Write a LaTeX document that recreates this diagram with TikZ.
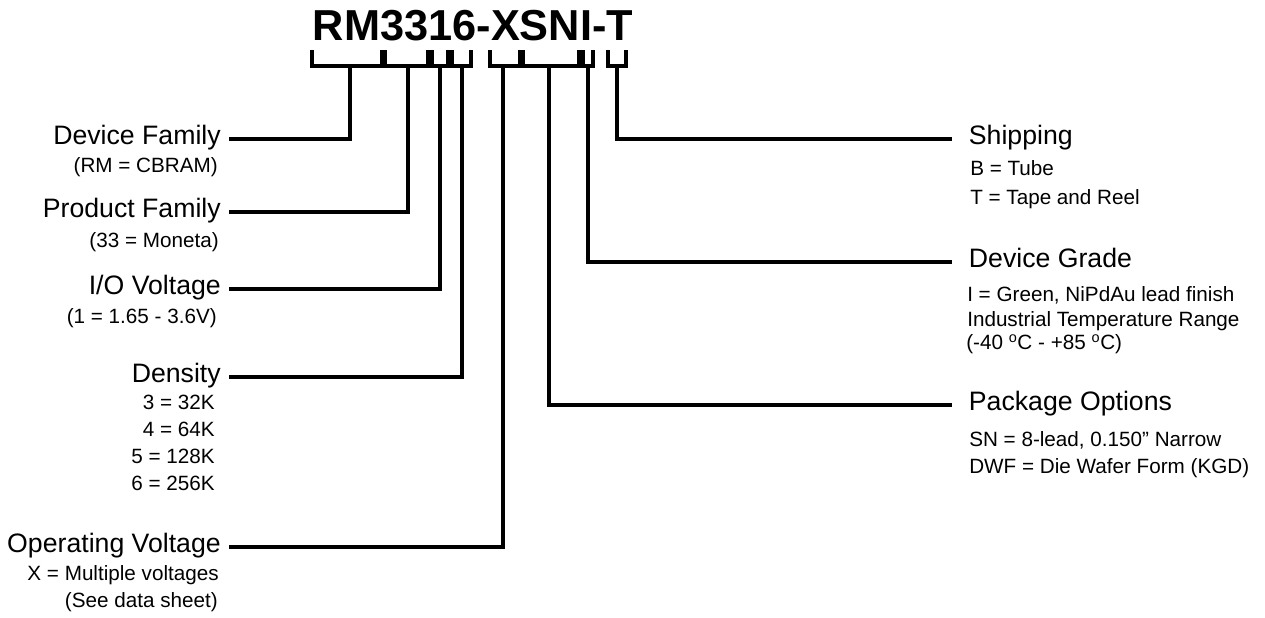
\documentclass[tikz,border=0pt]{standalone}
\usepackage{fontspec}
\setmainfont{Liberation Sans}
\tikzset{
  partno/.style={font=\fontsize{32.5}{38}\selectfont\bfseries,inner sep=0pt,anchor=base},
  fieldl/.style={font=\fontsize{20}{24}\selectfont,text height=13pt,text depth=5pt,inner xsep=6pt,inner ysep=0pt,anchor=east},
  fieldr/.style={fieldl,inner xsep=12.5pt,anchor=west},
  notel/.style={font=\fontsize{15.5}{19}\selectfont,inner sep=0pt,anchor=base east},
  noter/.style={notel,anchor=base west},
  bracket/.style={line width=2.3pt},
  lead/.style={line width=2.3pt}
}

\begin{document}
\begin{tikzpicture}[x=0.75pt,y=-0.75pt]
  \useasboundingbox (0,0) rectangle (1265,618);
  \node[partno] (partno) at (473,40) {RM3316-XSNI-T};
  % brackets under the part number
  \foreach \l/\r/\c/\n in {312/382/350/b1,385/428/408/b2,432/448/440/b3,452/471/462/b4,
                           490/520/503/b5,523/579/549/b6,583/593/588/b7,608/626/617/b8}{
    \draw[bracket] (\l,50) -- (\l,68) (\l,66) -- (\r,66) (\r,50) -- (\r,68);
    \coordinate (\n) at (\c,66);
  }
  % left side fields
  \node[fieldl] (devfam) at (229,139) {Device Family};
  \node[notel] (devfamsub) at (218,172) {(RM = CBRAM)};
  \node[fieldl] (prodfam) at (229,212) {Product Family};
  \node[notel] (prodfamsub) at (219,247) {(33 = Moneta)};
  \node[fieldl] (iovolt) at (229,289) {I/O Voltage};
  \node[notel] (iovoltsub) at (217,323) {(1 = 1.65 - 3.6V)};
  \node[fieldl] (density) at (229,377) {Density};
  \node[notel] (densa) at (215,409) {3 = 32K};
  \node[notel] (densb) at (215,436) {4 = 64K};
  \node[notel] (densc) at (215,463) {5 = 128K};
  \node[notel] (densd) at (215,490) {6 = 256K};
  \node[fieldl] (opvolt) at (229,547) {Operating Voltage};
  \node[notel] (opvolta) at (219,580) {X = Multiple voltages};
  \node[notel] (opvoltb) at (218,607) {(See data sheet)};
  % right side fields
  \node[fieldr] (ship) at (952,139) {Shipping};
  \node[noter] (shipa) at (970,175) {B = Tube};
  \node[noter] (shipb) at (970,204) {T = Tape and Reel};
  \node[fieldr] (grade) at (952,262) {Device Grade};
  \node[noter] (gradea) at (967,301) {I = Green, NiPdAu lead finish};
  \node[noter] (gradeb) at (967,326) {Industrial Temperature Range};
  \node[noter] (gradec) at (966,349) {(-40 \textsuperscript{o}C - +85 \textsuperscript{o}C)};
  \node[fieldr] (pkg) at (952,405) {Package Options};
  \node[noter] (pkga) at (969,446) {SN = 8-lead, 0.150” Narrow};
  \node[noter] (pkgb) at (969,473) {DWF = Die Wafer Form (KGD)};
  % leads
  \draw[lead] (b1) |- (devfam.east);
  \draw[lead] (b2) |- (prodfam.east);
  \draw[lead] (b3) |- (iovolt.east);
  \draw[lead] (b4) |- (density.east);
  \draw[lead] (b5) |- (opvolt.east);
  \draw[lead] (b6) |- (pkg.west);
  \draw[lead] (b7) |- (grade.west);
  \draw[lead] (b8) |- (ship.west);
\end{tikzpicture}
\end{document}
